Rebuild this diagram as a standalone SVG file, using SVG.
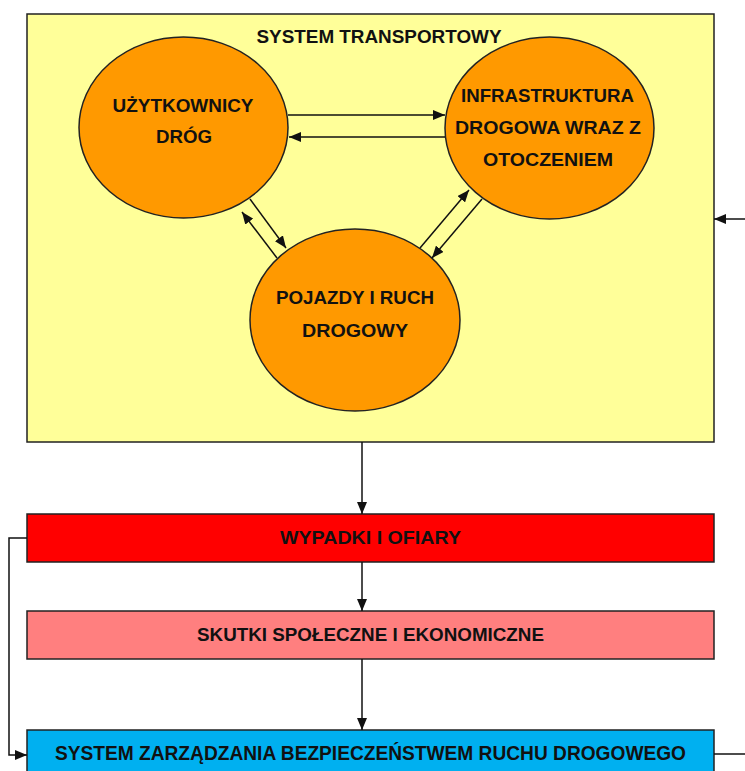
<svg xmlns="http://www.w3.org/2000/svg" width="745" height="771" viewBox="0 0 745 771">
<defs>
<marker id="ah" markerUnits="userSpaceOnUse" markerWidth="12" markerHeight="10" refX="12" refY="5" orient="auto">
<path d="M0,0 L12,5 L0,10 Z" fill="#111"/>
</marker>
<style>
.t{font-family:"Liberation Sans",Arial,sans-serif;font-weight:bold;fill:#111;text-anchor:middle}
.c{font-size:18px}
.b{font-size:19px}
.node{stroke:#222;stroke-width:1.5}
.ln{stroke:#111;stroke-width:1.5;fill:none}
</style>
</defs>
<rect width="745" height="771" fill="#fff"/>
<g id="system-transportowy">
<rect class="node" x="27" y="14" width="687" height="428" fill="#FFFF99"/>
<text class="t c" x="379" y="43" textLength="245" lengthAdjust="spacingAndGlyphs">SYSTEM TRANSPORTOWY</text>
</g>
<g id="uzytkownicy">
<ellipse class="node" cx="183.5" cy="127.5" rx="104.5" ry="90.5" fill="#FF9900"/>
<text class="t c" x="183" y="112" textLength="141" lengthAdjust="spacingAndGlyphs">UŻYTKOWNICY</text>
<text class="t c" x="184" y="143" textLength="56" lengthAdjust="spacingAndGlyphs">DRÓG</text>
</g>
<g id="infrastruktura">
<ellipse class="node" cx="549.5" cy="128" rx="104.5" ry="91" fill="#FF9900"/>
<text class="t c" x="547.5" y="102" textLength="173" lengthAdjust="spacingAndGlyphs">INFRASTRUKTURA</text>
<text class="t c" x="548" y="134" textLength="186" lengthAdjust="spacingAndGlyphs">DROGOWA WRAZ Z</text>
<text class="t c" x="548" y="166" textLength="130" lengthAdjust="spacingAndGlyphs">OTOCZENIEM</text>
</g>
<g id="pojazdy">
<ellipse class="node" cx="355" cy="320" rx="105" ry="91" fill="#FF9900"/>
<text class="t c" x="355" y="304" textLength="158" lengthAdjust="spacingAndGlyphs">POJAZDY I RUCH</text>
<text class="t c" x="355" y="337" textLength="106" lengthAdjust="spacingAndGlyphs">DROGOWY</text>
</g>
<g id="wypadki">
<rect class="node" x="27" y="514" width="687" height="48" fill="#FF0000"/>
<text class="t b" x="370.5" y="544" textLength="181" lengthAdjust="spacingAndGlyphs">WYPADKI I OFIARY</text>
</g>
<g id="skutki">
<rect class="node" x="27" y="611" width="687" height="48" fill="#FF7F7F"/>
<text class="t b" x="370.5" y="641" textLength="347" lengthAdjust="spacingAndGlyphs">SKUTKI SPOŁECZNE I EKONOMICZNE</text>
</g>
<g id="zarzadzanie">
<rect class="node" x="27" y="730" width="687" height="50" fill="#00B0F0"/>
<text class="t" style="font-size:20px" x="370.5" y="760" textLength="631" lengthAdjust="spacingAndGlyphs">SYSTEM ZARZĄDZANIA BEZPIECZEŃSTWEM RUCHU DROGOWEGO</text>
</g>
<g id="connectors">
<line class="ln" x1="288" y1="115" x2="445" y2="115" marker-end="url(#ah)"/>
<line class="ln" x1="445" y1="137" x2="289" y2="137" marker-end="url(#ah)"/>
<line class="ln" x1="250" y1="199" x2="286" y2="248" marker-end="url(#ah)"/>
<line class="ln" x1="277" y1="258" x2="242" y2="212" marker-end="url(#ah)"/>
<line class="ln" x1="420" y1="248" x2="469" y2="190" marker-end="url(#ah)"/>
<line class="ln" x1="482" y1="199" x2="432" y2="258" marker-end="url(#ah)"/>
<line class="ln" x1="362" y1="442" x2="362" y2="514" marker-end="url(#ah)"/>
<line class="ln" x1="362" y1="562" x2="362" y2="611" marker-end="url(#ah)"/>
<line class="ln" x1="362" y1="659" x2="362" y2="730" marker-end="url(#ah)"/>
<polyline class="ln" points="27,538 9,538 9,755 27,755" marker-end="url(#ah)"/>
<line class="ln" x1="714" y1="754" x2="746" y2="754"/>
<line class="ln" x1="746" y1="219" x2="714" y2="219" marker-end="url(#ah)"/>
</g>
</svg>
